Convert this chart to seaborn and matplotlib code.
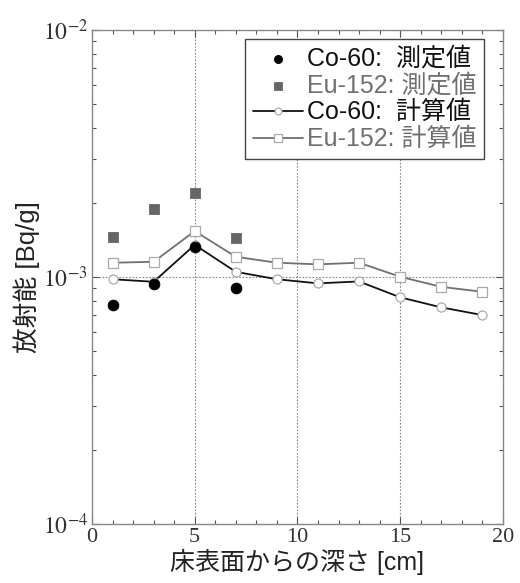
import matplotlib
matplotlib.use("Agg")
import matplotlib.pyplot as plt
from matplotlib.ticker import LogLocator, FixedLocator, MultipleLocator, NullFormatter, FuncFormatter
import numpy as np
import pandas as pd
import seaborn as sns

# measured values (Bq/g)
depth_meas = [1, 3, 5, 7]
co60_meas = [7.7e-4, 9.4e-4, 1.32e-3, 9.05e-4]
eu152_meas = [1.45e-3, 1.88e-3, 2.18e-3, 1.44e-3]

# calculated values (Bq/g)
depth_calc = [1, 3, 5, 7, 9, 11, 13, 15, 17, 19]
co60_calc = [9.8e-4, 9.57e-4, 1.35e-3, 1.05e-3, 9.8e-4, 9.43e-4, 9.6e-4, 8.28e-4, 7.54e-4, 7.02e-4]
eu152_calc = [1.143e-3, 1.153e-3, 1.535e-3, 1.208e-3, 1.143e-3, 1.126e-3, 1.143e-3, 1.003e-3, 9.13e-4, 8.72e-4]

labels = ["Co-60:  測定値", "Eu-152: 測定値", "Co-60:  計算値", "Eu-152: 計算値"]

meas = pd.DataFrame({"depth": depth_meas, "co": co60_meas, "eu": eu152_meas})
calc = pd.DataFrame({"depth": depth_calc, "co": co60_calc, "eu": eu152_calc})

sns.set_style("ticks")
plt.rcParams['font.family'] = ['Liberation Sans', 'Noto Sans CJK JP', 'DejaVu Sans']
plt.rcParams['mathtext.fontset'] = 'stix'

fig = plt.figure(figsize=(5.2, 5.83), dpi=100)
ax = fig.add_axes([0.177, 0.101, 0.79, 0.8475])

black = '#111111'
gray = '#707070'

# dotted grid at the major positions
for xv in [5, 10, 15]:
    ax.axvline(xv, color='#888888', linestyle=(0, (1.5, 1.5)), linewidth=0.8, zorder=0)
ax.axhline(1e-3, color='#888888', linestyle=(0, (1.5, 1.5)), linewidth=0.8, zorder=0)

sns.lineplot(data=calc, x="depth", y="eu", ax=ax, color=gray, linewidth=1.3,
             marker='s', markersize=7, markerfacecolor='white', markeredgecolor='#aaaaaa',
             markeredgewidth=0.9, label=labels[3], legend=False)
sns.lineplot(data=calc, x="depth", y="co", ax=ax, color=black, linewidth=1.3,
             marker='o', markersize=6.5, markerfacecolor='white', markeredgecolor='#aaaaaa',
             markeredgewidth=0.9, label=labels[2], legend=False)
sns.scatterplot(data=meas, x="depth", y="eu", ax=ax, color='#666666', marker='s', s=55,
                edgecolor='#666666', label=labels[1], legend=False, zorder=4)
sns.scatterplot(data=meas, x="depth", y="co", ax=ax, color='black', marker='o', s=60,
                edgecolor='black', label=labels[0], legend=False, zorder=5)

ax.set_yscale('log')
ax.set_xlim(0, 20)
ax.set_ylim(1e-4, 1e-2)

ax.xaxis.set_major_locator(FixedLocator([0, 5, 10, 15, 20]))
ax.xaxis.set_minor_locator(MultipleLocator(1))
ax.yaxis.set_major_locator(LogLocator(base=10, numticks=5))
ax.yaxis.set_minor_locator(LogLocator(base=10, subs=np.arange(2, 10), numticks=20))
ax.yaxis.set_minor_formatter(NullFormatter())
ax.yaxis.set_major_formatter(FuncFormatter(lambda v, p: r'$10^{%d}$' % int(round(np.log10(v)))))

ax.tick_params(which='both', direction='in', top=True, right=True, color='#555555')
ax.tick_params(which='major', length=5, width=0.8)
ax.tick_params(which='minor', length=3, width=0.8)
ax.tick_params(axis='x', labelsize=16, pad=3)
ax.tick_params(axis='y', labelsize=17, pad=3)
for t in ax.get_xticklabels():
    t.set_fontfamily('Liberation Serif')
    t.set_color('#333333')
for t in ax.get_yticklabels():
    t.set_color('#333333')

for s in ax.spines.values():
    s.set_color('#888888')
    s.set_linewidth(1.0)

ax.set_xlabel("床表面からの深さ [cm]", fontsize=18, color='#222222', labelpad=1)
ax.set_ylabel("放射能 [Bq/g]", fontsize=18.5, color='#222222', labelpad=2)

handles, hl = ax.get_legend_handles_labels()
order = [hl.index(l) for l in labels]
leg = ax.legend([handles[i] for i in order], labels, loc='upper right',
                bbox_to_anchor=(0.953, 0.982), borderaxespad=0, fontsize=18,
                frameon=True, fancybox=False, edgecolor='#444444', framealpha=1,
                handlelength=2.0, handletextpad=0.15, labelspacing=0.12, borderpad=0.3,
                markerscale=0.75)
leg.get_frame().set_linewidth(1.0)
for txt, c in zip(leg.get_texts(), ['#111111', gray, '#111111', gray]):
    txt.set_color(c)

fig.savefig("out.png", dpi=100)
